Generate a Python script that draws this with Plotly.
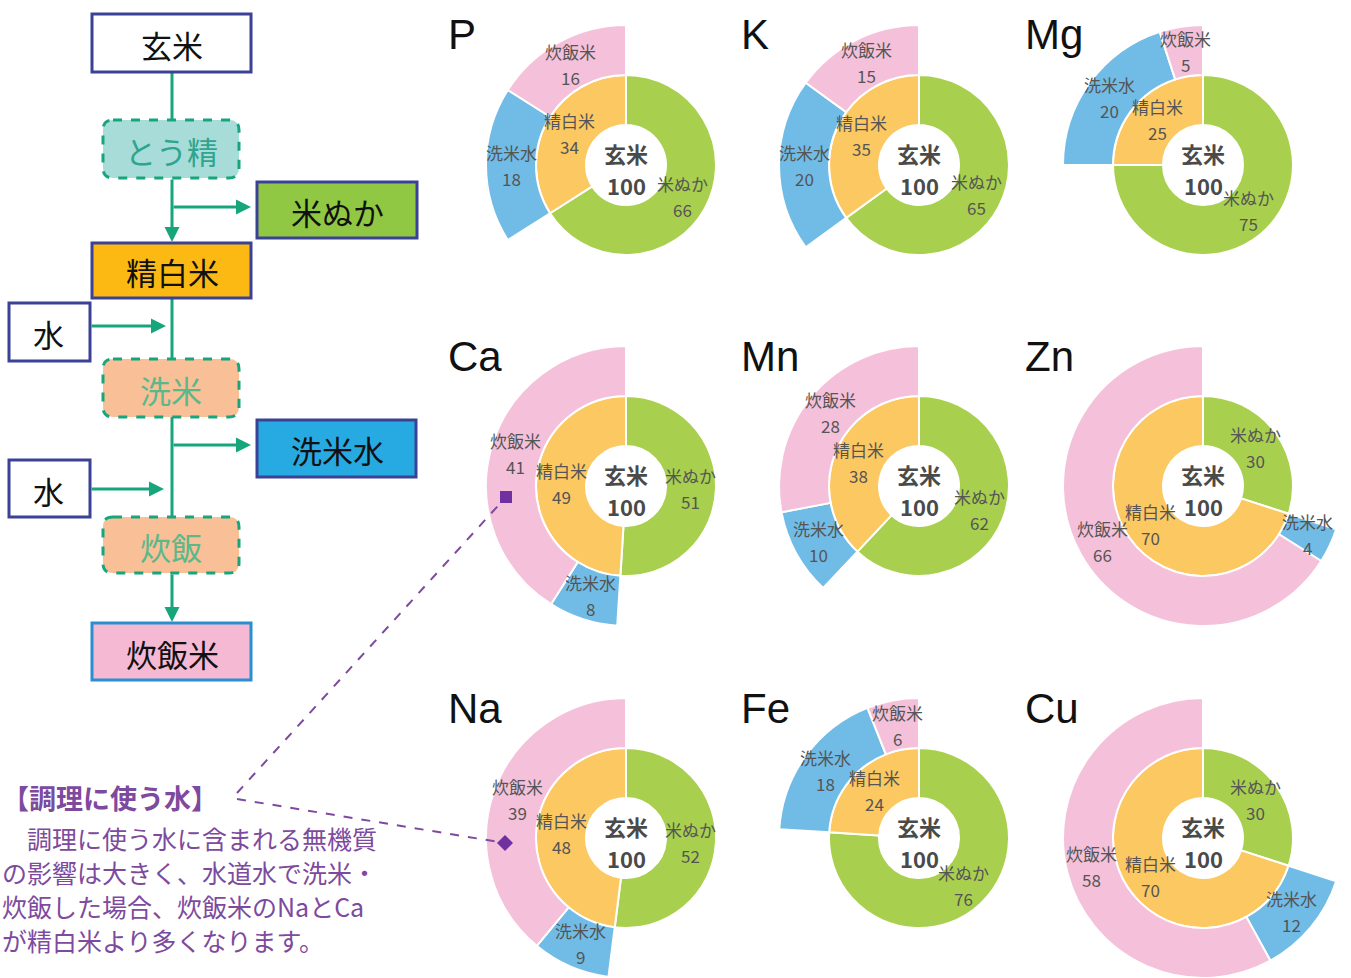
import math
import plotly.graph_objects as go

W, H = 1351, 978

# ---- data ----
elements = ['P', 'K', 'Mg', 'Ca', 'Mn', 'Zn', 'Na', 'Fe', 'Cu']
kome_nuka = [66, 65, 75, 51, 62, 30, 52, 76, 30]      # 米ぬか
seihakumai = [34, 35, 25, 49, 38, 70, 48, 24, 70]     # 精白米
senmaisui = [18, 20, 20, 8, 10, 4, 9, 18, 12]         # 洗米水
suihanmai = [16, 15, 5, 41, 28, 66, 39, 6, 58]        # 炊飯米
genmai_total = 100                                    # 玄米

# ---- layout constants ----
col_x = [626, 919, 1203]
row_y = [165, 486, 838]
R_OUT, R_MID, R_HOLE = 140, 90, 40

GREEN = '#a8d04e'
ORANGE = '#fcc862'
PINK = '#f5c1da'
BLUE = '#70bce6'
LABEL = '#555555'
JP = 'Noto Sans CJK JP'
FLOW_GREEN = '#17a67c'
NAVY = '#3b4296'
PURPLE = '#7d4a9e'


def px(x):
    return x / W


def py(y):
    return 1 - y / H


fig = go.Figure()
annotations = []
shapes = []


def slice_label(cx, cy, r, f0, f1, name, value):
    """Place a label at the middle angle / middle radius of a clockwise slice."""
    th = 2 * math.pi * (f0 + f1) / 2
    x = cx + r * math.sin(th)
    y = cy - r * math.cos(th)
    for t, dy in ((name, -13), (str(value), 13)):
        annotations.append(dict(x=px(x), y=py(y + dy), xref='paper', yref='paper',
                                text=t, showarrow=False, xanchor='center', yanchor='middle',
                                font=dict(family=JP, size=17, color=LABEL)))


for i, el in enumerate(elements):
    cx = col_x[i % 3]
    cy = row_y[i // 3]
    fig.add_trace(go.Pie(
        values=[kome_nuka[i], seihakumai[i]],
        labels=['米ぬか', '精白米'],
        textinfo='none',
        sort=False, direction='clockwise', rotation=0,
        hole=R_HOLE / R_MID,
        marker=dict(colors=[GREEN, ORANGE], line=dict(color='white', width=2)),
        domain=dict(x=[px(cx - R_MID), px(cx + R_MID)], y=[py(cy + R_MID), py(cy - R_MID)]),
        showlegend=False, hoverinfo='label+value'))
    fig.add_trace(go.Pie(
        values=[kome_nuka[i], senmaisui[i], suihanmai[i]],
        labels=['', '洗米水', '炊飯米'],
        textinfo='none',
        sort=False, direction='clockwise', rotation=0,
        hole=R_MID / R_OUT,
        marker=dict(colors=['rgba(0,0,0,0)', BLUE, PINK],
                    line=dict(color=['rgba(0,0,0,0)', 'white', 'white'], width=2)),
        domain=dict(x=[px(cx - R_OUT), px(cx + R_OUT)], y=[py(cy + R_OUT), py(cy - R_OUT)]),
        showlegend=False, hoverinfo='skip'))

    tot = kome_nuka[i] + seihakumai[i]
    a = kome_nuka[i] / tot
    b = (kome_nuka[i] + senmaisui[i]) / tot
    r_in = (R_HOLE + R_MID) / 2
    r_out = (R_MID + R_OUT) / 2
    slice_label(cx, cy, r_in, 0, a, '米ぬか', kome_nuka[i])
    slice_label(cx, cy, r_in, a, 1, '精白米', seihakumai[i])
    slice_label(cx, cy, r_out, a, b, '洗米水', senmaisui[i])
    slice_label(cx, cy, r_out, b, 1, '炊飯米', suihanmai[i])

    # title and centre text
    annotations.append(dict(x=px(cx - 180), y=py(cy - 130), xref='paper', yref='paper',
                            text=el, showarrow=False, xanchor='left', yanchor='middle',
                            font=dict(family='Liberation Sans', size=42, color='#111')))
    annotations.append(dict(x=px(cx), y=py(cy - 12), xref='paper', yref='paper',
                            text='<b>玄米</b>', showarrow=False,
                            xanchor='center', yanchor='middle',
                            font=dict(family=JP, size=22, color='#4a4a4a')))
    annotations.append(dict(x=px(cx), y=py(cy + 20), xref='paper', yref='paper',
                            text=f'<b>{genmai_total}</b>', showarrow=False,
                            xanchor='center', yanchor='middle',
                            font=dict(family=JP, size=22, color='#4a4a4a')))


def rect(x0, y0, x1, y1, fill, line=NAVY, width=3):
    shapes.append(dict(type='rect', xref='paper', yref='paper',
                       x0=px(x0), x1=px(x1), y0=py(y1), y1=py(y0),
                       fillcolor=fill, line=dict(color=line, width=width), layer='above'))


def rrect(x0, y0, x1, y1, fill, r=10):
    P = lambda x, y: f'{px(x):.5f},{py(y):.5f}'
    path = (f'M {P(x0 + r, y0)} L {P(x1 - r, y0)} Q {P(x1, y0)} {P(x1, y0 + r)} '
            f'L {P(x1, y1 - r)} Q {P(x1, y1)} {P(x1 - r, y1)} '
            f'L {P(x0 + r, y1)} Q {P(x0, y1)} {P(x0, y1 - r)} '
            f'L {P(x0, y0 + r)} Q {P(x0, y0)} {P(x0 + r, y0)} Z')
    shapes.append(dict(type='path', xref='paper', yref='paper', path=path,
                       fillcolor=fill, line=dict(color=FLOW_GREEN, width=3, dash='dash'),
                       layer='above'))


def vline(x, y0, y1, color=FLOW_GREEN, width=3):
    shapes.append(dict(type='line', xref='paper', yref='paper',
                       x0=px(x), x1=px(x), y0=py(y0), y1=py(y1),
                       line=dict(color=color, width=width), layer='above'))


def seg(x0, y0, x1, y1, color, width=2, dash='dash'):
    shapes.append(dict(type='line', xref='paper', yref='paper',
                       x0=px(x0), x1=px(x1), y0=py(y0), y1=py(y1),
                       line=dict(color=color, width=width, dash=dash), layer='above'))


def arrow(tx, ty, hx, hy):
    annotations.append(dict(x=px(hx), y=py(hy), xref='paper', yref='paper',
                            ax=tx - hx, ay=ty - hy, axref='pixel', ayref='pixel',
                            text='', showarrow=True, arrowhead=2, arrowsize=1,
                            arrowwidth=3, arrowcolor=FLOW_GREEN, standoff=0))


def label(x, y, t, size=31, color='#111'):
    annotations.append(dict(x=px(x), y=py(y), xref='paper', yref='paper', text=t,
                            showarrow=False, xanchor='center', yanchor='middle',
                            font=dict(family=JP, size=size, color=color)))


# flow lines
vline(172, 72, 122)
vline(172, 298, 361)
vline(172, 417, 519)
arrow(172, 178, 172, 242)
arrow(172, 207, 251, 207)
arrow(90, 326, 166, 326)
arrow(172, 445, 251, 445)
arrow(90, 489, 164, 489)
arrow(172, 573, 172, 622)

# boxes
rect(92, 14, 251, 72, 'white')
rrect(103, 120, 239, 178, '#a8dcd8')
rect(257, 182, 417, 238, '#90c843')
rect(92, 243, 251, 298, '#fdb913')
rect(9, 303, 90, 361, 'white')
rrect(103, 359, 239, 417, '#f9bf97')
rect(257, 420, 416, 477, '#27aae1')
rect(9, 460, 90, 517, 'white')
rrect(103, 517, 239, 573, '#f9bf97')
rect(92, 623, 251, 680, '#f6b9d3', line='#2a8fd0')

label(172, 44, '玄米')
label(171, 150, 'とう精', color='#2fa590')
label(337, 211, '米ぬか')
label(172, 271, '精白米')
label(49, 333, '水')
label(171, 389, '洗米', color='#5ab88a')
label(337, 449, '洗米水')
label(49, 490, '水')
label(171, 546, '炊飯', color='#5ab88a')
label(172, 653, '炊飯米')

# note
seg(237, 793, 506, 497, PURPLE)
seg(237, 799, 505, 843, PURPLE)
shapes.append(dict(type='rect', xref='paper', yref='paper',
                   x0=px(500), x1=px(512), y0=py(503), y1=py(491),
                   fillcolor='#7030a0', line=dict(width=0), layer='above'))
dpath = (f'M {px(505):.5f},{py(835):.5f} L {px(513):.5f},{py(843):.5f} '
         f'L {px(505):.5f},{py(851):.5f} L {px(497):.5f},{py(843):.5f} Z')
shapes.append(dict(type='path', xref='paper', yref='paper', path=dpath,
                   fillcolor='#7030a0', line=dict(width=0), layer='above'))

annotations.append(dict(x=0, y=py(797), xref='paper', yref='paper',
                        text='<b>【調理に使う水】</b>', showarrow=False,
                        xanchor='left', yanchor='middle',
                        font=dict(family=JP, size=27, color=PURPLE)))
note_lines = ['　調理に使う水に含まれる無機質',
              'の影響は大きく、水道水で洗米・',
              '炊飯した場合、炊飯米のNaとCa',
              'が精白米より多くなります。']
for t, yy in zip(note_lines, [838, 872, 906, 940]):
    annotations.append(dict(x=0, y=py(yy), xref='paper', yref='paper', text=t,
                            showarrow=False, xanchor='left', yanchor='middle',
                            font=dict(family=JP, size=25, color=PURPLE)))

fig.update_layout(
    width=W, height=H, autosize=False,
    margin=dict(l=0, r=0, t=0, b=0),
    paper_bgcolor='white', plot_bgcolor='white',
    showlegend=False,
    shapes=shapes, annotations=annotations,
)

fig.write_html('out.html')
